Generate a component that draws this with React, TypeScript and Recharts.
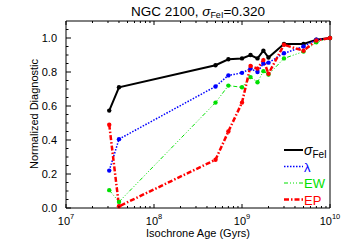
import React from 'react';
import { LineChart, Line, XAxis, YAxis, Legend } from 'recharts';

// isochrone ages (yr) and normalized diagnostics per method
const ages = [3.1e7, 4.0e7, 5.0e8, 7.0e8, 1.0e9, 1.25e9, 1.5e9, 1.75e9, 2.0e9, 3.0e9, 5.0e9, 7.0e9, 1.0e10];
const sigmaVals = [0.573, 0.71, 0.84, 0.875, 0.88, 0.9, 0.88, 0.925, 0.885, 0.965, 0.965, 0.99, 1.0];
const lambdaVals = [0.22, 0.405, 0.715, 0.78, 0.795, 0.82, 0.8, 0.85, 0.855, 0.91, 0.95, 0.99, 1.0];
const ewVals = [0.105, 0.036, 0.62, 0.72, 0.71, 0.77, 0.74, 0.805, 0.785, 0.88, 0.92, 0.975, 1.0];
const epVals = [0.49, 0.01, 0.284, 0.45, 0.62, 0.835, 0.82, 0.87, 0.79, 0.96, 0.925, 0.985, 1.0];

const xMajor = [1e7, 1e8, 1e9, 1e10];
const xMinor = [
  2e7, 3e7, 4e7, 5e7, 6e7, 7e7, 8e7, 9e7,
  2e8, 3e8, 4e8, 5e8, 6e8, 7e8, 8e8, 9e8,
  2e9, 3e9, 4e9, 5e9, 6e9, 7e9, 8e9, 9e9
];
const yMajor = [0, 0.2, 0.4, 0.6, 0.8, 1.0];
const yMinor = [0.05, 0.1, 0.15, 0.25, 0.3, 0.35, 0.45, 0.5, 0.55, 0.65, 0.7, 0.75, 0.85, 0.9, 0.95, 1.05];

const FONT = '"Liberation Sans", Arial, sans-serif';

const data = ages.map((age, i) => ({
  age,
  sigma: sigmaVals[i],
  lambda: lambdaVals[i],
  ew: ewVals[i],
  ep: epVals[i]
}));

const series = [
  { key: 'sigma', color: '#000000', width: 2, dash: undefined as string | undefined },
  { key: 'lambda', color: '#0000ff', width: 1.5, dash: '1.5 1.5' },
  { key: 'ew', color: '#00e000', width: 1, dash: '4 2 1 2 1 2 1 2' },
  { key: 'ep', color: '#ff0000', width: 2.5, dash: '5 2 1.5 2' }
];

const isMajorX = (v: number) => xMajor.some(m => Math.abs(m - v) / m < 1e-6);
const isMajorY = (v: number) => yMajor.some(m => Math.abs(m - v) < 1e-6);

const BottomTick = ({ x, y, payload }: any) => {
  const major = isMajorX(payload.value);
  const exp = Math.round(Math.log10(payload.value));
  return (
    <g>
      <line x1={x} x2={x} y1={y} y2={y - (major ? 4 : 2)} stroke="#000" />
      {major && (
        <text x={x} y={y + 17} textAnchor="middle" fontSize={11} fontFamily={FONT} fill="#000">
          <tspan>10</tspan>
          <tspan dy={-6} fontSize={7.5}>{exp}</tspan>
        </text>
      )}
    </g>
  );
};

const TopTick = ({ x, y, payload }: any) => {
  const major = isMajorX(payload.value);
  return <line x1={x} x2={x} y1={y} y2={y + (major ? 4 : 2)} stroke="#000" />;
};

const LeftTick = ({ x, y, payload }: any) => {
  const major = isMajorY(payload.value);
  return (
    <g>
      <line x1={x} x2={x + (major ? 5 : 2.5)} y1={y} y2={y} stroke="#000" />
      {major && (
        <text x={x - 9} y={y + 4} textAnchor="end" fontSize={11} fontFamily={FONT} fill="#000">
          {payload.value.toFixed(1)}
        </text>
      )}
    </g>
  );
};

const RightTick = ({ x, y, payload }: any) => {
  const major = isMajorY(payload.value);
  return <line x1={x} x2={x - (major ? 5 : 2.5)} y1={y} y2={y} stroke="#000" />;
};

const legendLabels: Record<string, React.ReactNode> = {
  sigma: (
    <>
      <tspan fontStyle="italic" fontSize={14}>σ</tspan>
      <tspan fontSize={10} dy={3}>FeI</tspan>
    </>
  ),
  lambda: <tspan fontSize={13}>λ</tspan>,
  ew: <tspan fontSize={13}>EW</tspan>,
  ep: <tspan fontSize={13}>EP</tspan>
};

const CustomLegend = () => (
  <svg width={70} height={72}>
    {series.map((s, i) => {
      const y = 10 + i * 16.5;
      return (
        <g key={s.key}>
          <line x1={2} x2={21} y1={y} y2={y} stroke={s.color} strokeWidth={s.width} strokeDasharray={s.dash} />
          <text x={22} y={y + 5} fill={s.color} fontFamily={FONT}>
            {legendLabels[s.key]}
          </text>
        </g>
      );
    })}
  </svg>
);

const xTickList = [...xMajor, ...xMinor];
const yTickList = [...yMajor, ...yMinor];

export default function App() {
  return (
    <div style={{ position: 'absolute', left: 0, top: 0, width: 350, height: 250, background: '#fff' }}>
      <LineChart width={350} height={250} data={data} margin={{ top: 20, right: 19, bottom: 41, left: 65 }}>
        <XAxis
          xAxisId="b"
          dataKey="age"
          type="number"
          scale="log"
          domain={[1e7, 1e10]}
          ticks={xTickList}
          interval={0}
          height={1}
          tickSize={0}
          tickMargin={0}
          tickLine={false}
          axisLine={{ stroke: '#000' }}
          tick={BottomTick}
        />
        <XAxis
          xAxisId="t"
          orientation="top"
          dataKey="age"
          type="number"
          scale="log"
          domain={[1e7, 1e10]}
          ticks={xTickList}
          interval={0}
          height={1}
          tickSize={0}
          tickMargin={0}
          tickLine={false}
          axisLine={{ stroke: '#000' }}
          tick={TopTick}
        />
        <YAxis
          yAxisId="l"
          type="number"
          domain={[0, 1.1]}
          ticks={yTickList}
          interval={0}
          width={1}
          tickSize={0}
          tickMargin={0}
          tickLine={false}
          axisLine={{ stroke: '#000' }}
          tick={LeftTick}
        />
        <YAxis
          yAxisId="r"
          orientation="right"
          type="number"
          domain={[0, 1.1]}
          ticks={yTickList}
          interval={0}
          width={1}
          tickSize={0}
          tickMargin={0}
          tickLine={false}
          axisLine={{ stroke: '#000' }}
          tick={RightTick}
        />
        <Legend
          content={<CustomLegend />}
          layout="vertical"
          align="center"
          verticalAlign="middle"
          wrapperStyle={{ left: 282, top: 140, width: 70, height: 72 }}
        />
        {series.map(s => (
          <Line
            key={s.key}
            xAxisId="b"
            yAxisId="l"
            dataKey={s.key}
            type="linear"
            stroke={s.color}
            strokeWidth={s.width}
            strokeDasharray={s.dash}
            dot={{ r: 2.2, fill: s.color, stroke: s.color, strokeWidth: 0, strokeDasharray: '' }}
            activeDot={false}
            isAnimationActive={false}
          />
        ))}
      </LineChart>
      <svg width={350} height={250} style={{ position: 'absolute', left: 0, top: 0, pointerEvents: 'none' }}>
        <text x={198} y={16} textAnchor="middle" fontSize={13.5} fontFamily={FONT} fill="#000">
          <tspan>NGC 2100, </tspan>
          <tspan fontStyle="italic">σ</tspan>
          <tspan fontSize={9} dy={2}>FeI</tspan>
          <tspan dy={-2}>=0.320</tspan>
        </text>
        <text x={198} y={237} textAnchor="middle" fontSize={11} fontFamily={FONT} fill="#000">
          Isochrone Age (Gyrs)
        </text>
        <text
          transform="rotate(-90)"
          x={-114}
          y={38}
          textAnchor="middle"
          fontSize={11}
          fontFamily={FONT}
          fill="#000"
        >
          Normalized Diagnostic
        </text>
      </svg>
    </div>
  );
}
